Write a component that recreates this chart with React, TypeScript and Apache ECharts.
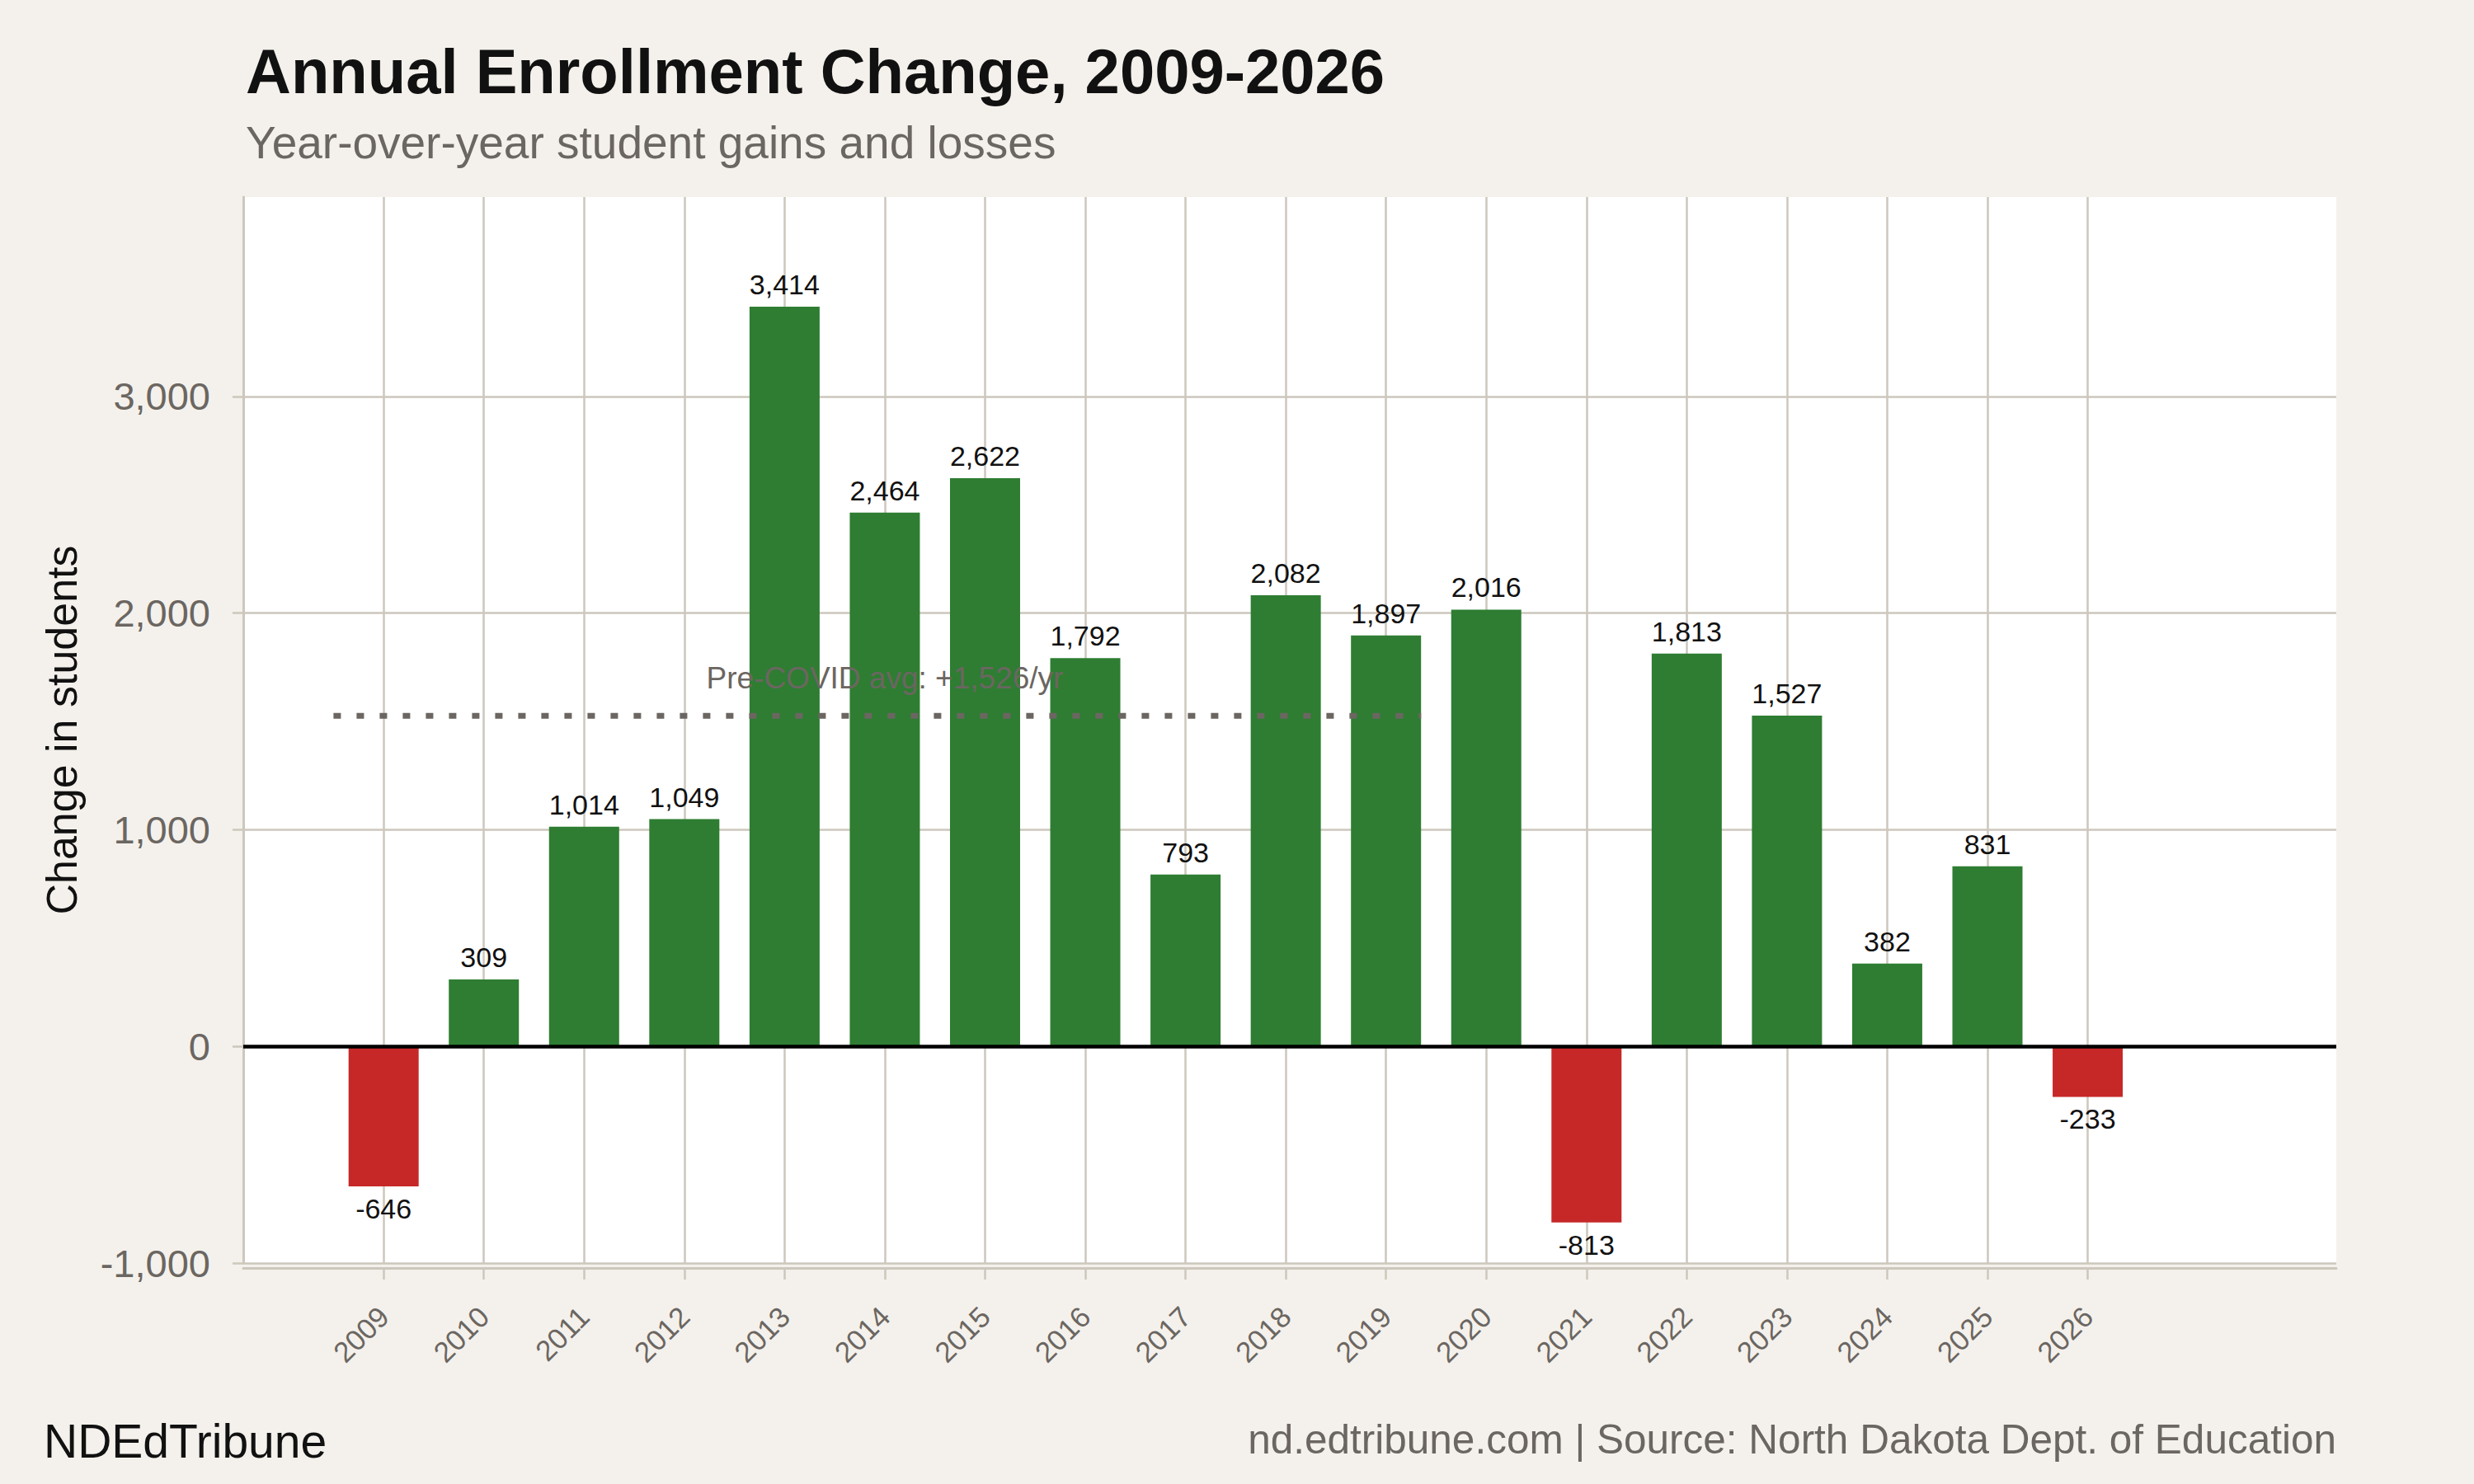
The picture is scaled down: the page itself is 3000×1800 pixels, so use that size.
import { useEffect, useRef } from 'react';
import * as echarts from 'echarts';

// Enrollment change by school year
const years = [
  2009, 2010, 2011, 2012, 2013, 2014, 2015, 2016, 2017,
  2018, 2019, 2020, 2021, 2022, 2023, 2024, 2025, 2026,
];
const changes = [
  -646, 309, 1014, 1049, 3414, 2464, 2622, 1792, 793,
  2082, 1897, 2016, -813, 1813, 1527, 382, 831, -233,
];

const yTicks = [-1000, 0, 1000, 2000, 3000];
const yMin = -1000;
const yMax = 3920;
const xMin = 2007.6;
const xMax = 2028.48;

// pre-COVID average reference line
const preCovidFirst = 2009;
const preCovidLast = 2019;
const preCovidLineStart = 2008.5;
const preCovidLineEnd = 2019.35;

const FONT = '"Liberation Sans", Arial, Helvetica, sans-serif';
const BG = '#f4f1ec';
const GRID = '#cdc7bc';
const GRAY = '#6b6661';
const INK = '#111111';
const GREEN = '#2e7d32';
const RED = '#c62828';

const fmt = (n: number) => n.toLocaleString('en-US');

export default function App() {
  const chartRef = useRef<HTMLDivElement>(null);

  useEffect(() => {
    if (!chartRef.current) return;
    const chart = echarts.init(chartRef.current, undefined, { renderer: 'svg' });

    const preVals = changes.filter((_, i) => years[i] >= preCovidFirst && years[i] <= preCovidLast);
    const preAvg = Math.round(preVals.reduce((a, b) => a + b, 0) / preVals.length);

    const barData = years.map((y, i) => {
      const v = changes[i];
      return {
        value: [y, v],
        itemStyle: { color: v < 0 ? RED : GREEN },
        label: { position: v < 0 ? 'bottom' : 'top' },
      };
    });

    const option: echarts.EChartsOption = {
      animation: false,
      backgroundColor: BG,
      textStyle: { fontFamily: FONT },
      title: [
        {
          text: 'Annual Enrollment Change, 2009-2026',
          left: 298,
          top: 48,
          padding: 0,
          textStyle: { fontSize: 76, fontWeight: 'bold', color: INK, fontFamily: FONT },
        },
        {
          text: 'Year-over-year student gains and losses',
          left: 298,
          top: 145,
          padding: 0,
          textStyle: { fontSize: 55, fontWeight: 'normal', color: GRAY, fontFamily: FONT },
        },
        {
          text: 'NDEdTribune',
          left: 53,
          top: 1719,
          padding: 0,
          textStyle: { fontSize: 57, fontWeight: 'normal', color: INK, fontFamily: FONT },
        },
        {
          text: 'nd.edtribune.com | Source: North Dakota Dept. of Education',
          right: 167,
          top: 1720,
          padding: 0,
          textStyle: { fontSize: 49.5, fontWeight: 'normal', color: GRAY, fontFamily: FONT },
        },
      ],
      grid: {
        left: 295,
        top: 239,
        width: 2538,
        height: 1293,
        show: true,
        backgroundColor: '#ffffff',
        borderWidth: 0,
        containLabel: false,
        outerBoundsMode: 'none',
      } as any,
      xAxis: {
        type: 'value',
        min: xMin,
        max: xMax,
        position: 'bottom',
        offset: 6,
        axisLine: { show: true, onZero: false, lineStyle: { color: GRID, width: 3 } },
        axisTick: {
          show: true,
          length: 14,
          customValues: years,
          lineStyle: { color: GRID, width: 2.5 },
        } as any,
        axisLabel: {
          show: true,
          rotate: 45,
          margin: 53,
          fontSize: 35,
          color: GRAY,
          fontFamily: FONT,
          customValues: years,
          showMinLabel: true,
          showMaxLabel: true,
          formatter: (v: number) => String(v),
        } as any,
        splitLine: { show: true, lineStyle: { color: GRID, width: 2.5 } },
      },
      yAxis: {
        type: 'value',
        min: yMin,
        max: yMax,
        name: 'Change in students',
        nameLocation: 'middle',
        nameGap: 194,
        nameTextStyle: { fontSize: 52, color: INK, fontFamily: FONT },
        axisLine: { show: true, onZero: false, lineStyle: { color: GRID, width: 3 } },
        axisTick: {
          show: true,
          length: 13,
          customValues: yTicks,
          lineStyle: { color: GRID, width: 2.5 },
        } as any,
        axisLabel: {
          show: true,
          margin: 40,
          fontSize: 47,
          color: GRAY,
          fontFamily: FONT,
          customValues: yTicks,
          showMinLabel: true,
          showMaxLabel: true,
          formatter: (v: number) => fmt(v),
        } as any,
        splitLine: { show: true, lineStyle: { color: GRID, width: 2.5 } },
      },
      series: [
        {
          type: 'bar',
          name: 'Change',
          barWidth: 85,
          z: 2,
          data: barData as any,
          label: {
            show: true,
            distance: 10,
            fontSize: 34,
            color: INK,
            fontFamily: FONT,
            formatter: (p: any) => fmt(p.value[1]),
          },
          markLine: {
            silent: true,
            symbol: ['none', 'none'],
            z: 5,
            label: { show: false },
            lineStyle: { color: '#000000', width: 4.5, type: 'solid' },
            emphasis: { disabled: true } as any,
            data: [{ yAxis: 0 }],
          },
        },
        {
          type: 'line',
          name: 'Pre-COVID average',
          z: 4,
          symbol: 'none',
          silent: true,
          data: [
            [preCovidLineStart, preAvg],
            [preCovidLineEnd, preAvg],
          ],
          lineStyle: { color: GRAY, width: 7, type: [9, 19], cap: 'butt' },
          markPoint: {
            silent: true,
            symbol: 'rect',
            symbolSize: [1, 1],
            itemStyle: { color: 'rgba(0,0,0,0)' },
            label: {
              show: true,
              position: 'top',
              distance: 27,
              fontSize: 37,
              color: GRAY,
              fontFamily: FONT,
              formatter: `Pre-COVID avg: +${fmt(preAvg)}/yr`,
            },
            data: [{ coord: [(preCovidFirst + preCovidLast) / 2, preAvg] }],
          },
        },
      ],
    };

    chart.setOption(option);

    return () => {
      chart.dispose();
    };
  }, []);

  return (
    <div
      ref={chartRef}
      style={{ position: 'fixed', left: 0, top: 0, width: '3000px', height: '1800px' }}
    />
  );
}
